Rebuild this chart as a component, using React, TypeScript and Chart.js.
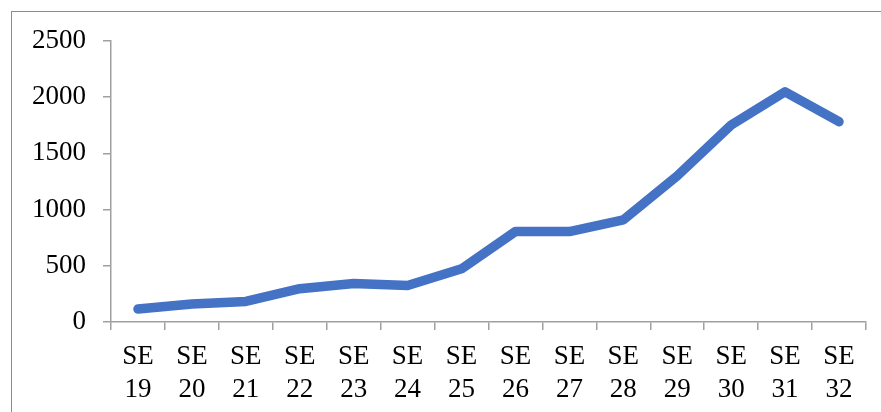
import React, { useEffect, useRef } from "react";
import { Chart, registerables } from "chart.js";

Chart.register(...registerables);

const weeks: string[] = ["19", "20", "21", "22", "23", "24", "25", "26", "27", "28", "29", "30", "31", "32"];
const categories: string[][] = weeks.map((w) => ["SE", w]);
const values: number[] = [115, 160, 183, 296, 343, 325, 473, 805, 805, 909, 1300, 1752, 2048, 1782];
const yTicks: number[] = [0, 500, 1000, 1500, 2000, 2500];

export default function App() {
  const ref = useRef<HTMLCanvasElement | null>(null);

  useEffect(() => {
    document.body.style.overflow = "hidden";
    const ctx = ref.current!.getContext("2d")!;
    const axisColor = "#a0a0a0";
    const font = { family: "'Liberation Serif', 'Times New Roman', serif", size: 27 };
    const chart = new Chart(ctx, {
      type: "line",
      data: {
        labels: categories,
        datasets: [
          {
            data: values,
            borderColor: "#4472C4",
            backgroundColor: "#4472C4",
            borderWidth: 9.5,
            pointRadius: 0,
            pointHoverRadius: 0,
            tension: 0,
            borderCapStyle: "round",
            borderJoinStyle: "round",
            fill: false,
          },
        ],
      },
      options: {
        animation: false,
        responsive: false,
        maintainAspectRatio: false,
        events: [],
        layout: { padding: { left: 11, right: 15, top: 41, bottom: 0 } },
        plugins: { legend: { display: false }, tooltip: { enabled: false } },
        scales: {
          x: {
            type: "category",
            offset: true,
            grid: {
              offset: true,
              drawOnChartArea: false,
              drawTicks: true,
              tickLength: 8,
              color: axisColor,
              lineWidth: 1.5,
            },
            border: { display: true, color: axisColor, width: 1.5 },
            ticks: {
              color: "#000",
              font,
              padding: 11,
              maxRotation: 0,
              minRotation: 0,
              autoSkip: false,
            },
            afterFit: (scale: any) => {
              scale.height = 90;
            },
          },
          y: {
            min: 0,
            max: 2500,
            afterBuildTicks: (scale: any) => {
              scale.ticks = yTicks.map((v) => ({ value: v }));
            },
            grid: {
              drawOnChartArea: false,
              drawTicks: true,
              tickLength: 8,
              color: axisColor,
              lineWidth: 1.5,
            },
            border: { display: true, color: axisColor, width: 1.5 },
            ticks: { color: "#000", font, padding: 17, callback: (v: any) => String(v) },
            afterFit: (scale: any) => {
              scale.width = 100;
            },
          },
        },
      },
    });
    return () => chart.destroy();
  }, []);

  return (
    <>
      <div
        style={{
          position: "fixed",
          left: 11,
          top: 11,
          width: 900,
          height: 450,
          border: "1.5px solid #8c8c8c",
          boxSizing: "border-box",
        }}
      />
      <canvas
        ref={ref}
        width={881}
        height={412}
        style={{ position: "fixed", left: 0, top: 0, width: 881, height: 412 }}
      />
    </>
  );
}
